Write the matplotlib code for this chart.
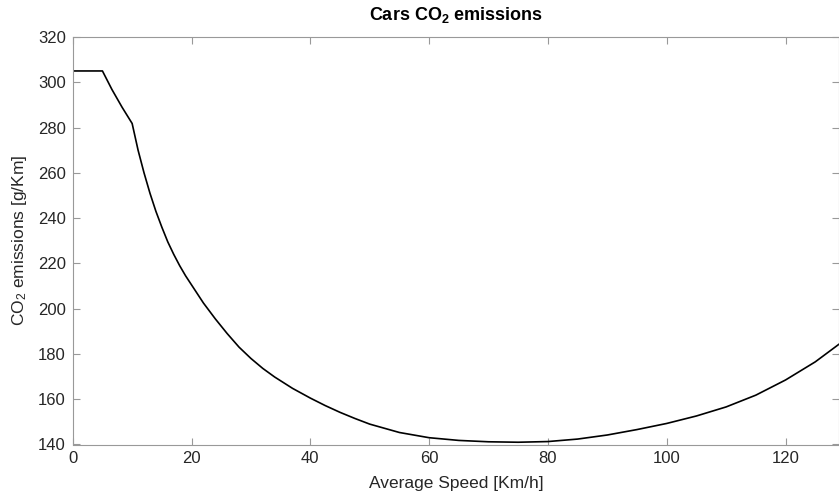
import numpy as np
import matplotlib.pyplot as plt

plt.rcParams['font.family'] = ['Liberation Sans', 'DejaVu Sans']
plt.rcParams['mathtext.default'] = 'regular'

# average speed [km/h] and CO2 emissions [g/km]
speed = [0, 5, 6.6, 8.3, 10, 11, 12, 13, 14, 15, 16, 17, 18, 19, 20, 22, 24,
         26, 28, 30, 32, 34, 37, 40, 42.5, 45, 47.5, 50, 55, 60, 65, 70, 75,
         80, 85, 90, 95, 100, 105, 110, 115, 120, 125, 129]
co2 = [305, 305, 296.8, 289, 281.8, 270, 260, 251, 243, 236, 229.5, 224,
       219, 214.5, 210.5, 202.5, 195.5, 189, 183, 178, 173.6, 169.8, 164.8,
       160.5, 157.2, 154.2, 151.5, 149, 145.3, 143, 141.8, 141.2, 141, 141.3,
       142.4, 144.2, 146.6, 149.3, 152.6, 156.6, 161.8, 168.5, 176.5, 184.3]

fig = plt.figure(figsize=(8.39, 5.0), dpi=100)
ax = fig.add_axes([0.0867, 0.111, 0.9133, 0.815])

ax.plot(speed, co2, color='black', lw=1.2)

ax.set_xlim(0, 129)
ax.set_ylim(140, 320)
ax.set_xticks(np.arange(0, 121, 20))
ax.set_yticks(np.arange(140, 321, 20))

txt = '#262626'
for s in ax.spines.values():
    s.set_color('#999999')
    s.set_linewidth(0.8)
ax.tick_params(direction='in', length=5, width=0.8, color='#999999',
               top=True, right=True, labelsize=12, labelcolor=txt, pad=5)

ax.set_xlabel('Average Speed [Km/h]', fontsize=12.5, color=txt, labelpad=7)
ax.set_ylabel('CO$_2$ emissions [g/Km]', fontsize=12.5, color=txt, labelpad=6)
ax.set_title('Cars CO$_2$ emissions', fontsize=13, fontweight='bold',
             color='black', pad=12)

fig.savefig('out.png', dpi=100)
